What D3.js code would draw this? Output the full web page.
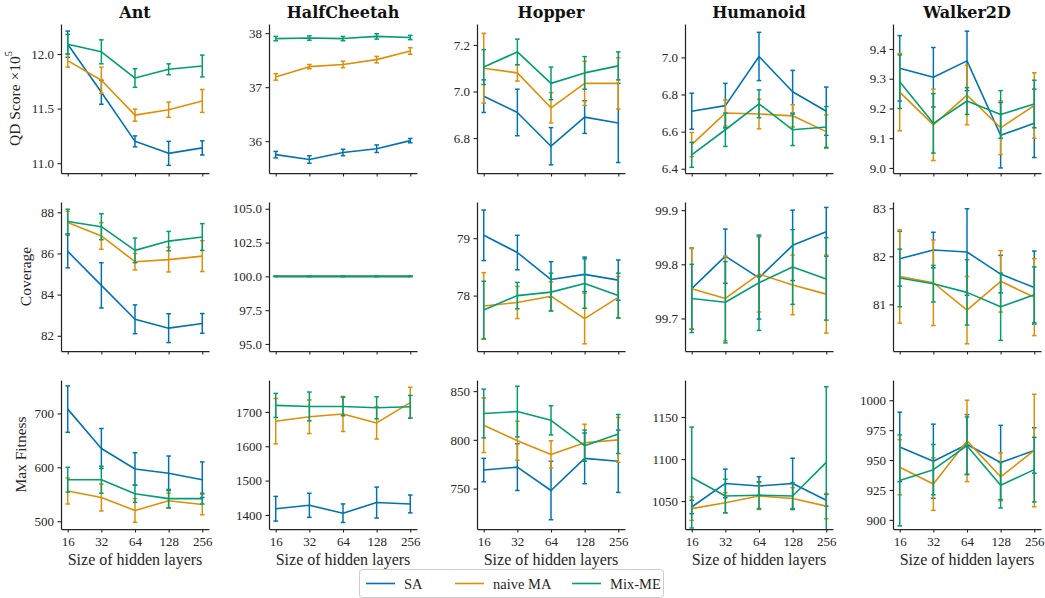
<!DOCTYPE html>
<html><head><meta charset="utf-8">
<script src="https://cdn.jsdelivr.net/npm/d3@7"></script>
<style>body{margin:0;background:#fff}</style>
</head><body><svg id="c" width="1045" height="598"></svg>
<script>
const sizes = [16, 32, 64, 128, 256];
const envs = ["Ant", "HalfCheetah", "Hopper", "Humanoid", "Walker2D"];
const methods = ["SA", "naive MA", "Mix-ME"];

// QD score (x1e5)
const qd_SA = [
  [12.09, 11.65, 11.20, 11.09, 11.14],
  [35.75, 35.66, 35.79, 35.86, 36.01],
  [6.98, 6.91, 6.765, 6.89, 6.865],
  [6.71, 6.74, 7.005, 6.815, 6.71],
  [9.335, 9.305, 9.36, 9.11, 9.15]];
const qd_SA_err = [
  [0.12, 0.11, 0.05, 0.11, 0.065],
  [0.06, 0.07, 0.06, 0.07, 0.04],
  [0.07, 0.10, 0.08, 0.07, 0.17],
  [0.097, 0.12, 0.13, 0.115, 0.13],
  [0.11, 0.10, 0.10, 0.11, 0.115]];
const qd_MA = [
  [11.94, 11.76, 11.44, 11.49, 11.57],
  [37.19, 37.38, 37.42, 37.51, 37.67],
  [7.10, 7.08, 6.93, 7.035, 7.035],
  [6.53, 6.70, 6.695, 6.685, 6.60],
  [9.255, 9.145, 9.245, 9.135, 9.21]];
const qd_MA_err = [
  [0.06, 0.12, 0.055, 0.07, 0.105],
  [0.06, 0.04, 0.06, 0.06, 0.06],
  [0.15, 0.035, 0.065, 0.095, 0.11],
  [0.065, 0.07, 0.08, 0.06, 0.09],
  [0.13, 0.12, 0.10, 0.09, 0.11]];
const qd_MX = [
  [12.09, 12.02, 11.78, 11.86, 11.89],
  [37.90, 37.91, 37.90, 37.94, 37.92],
  [7.105, 7.17, 7.035, 7.08, 7.11],
  [6.475, 6.61, 6.75, 6.61, 6.625],
  [9.29, 9.15, 9.225, 9.18, 9.215]];
const qd_MX_err = [
  [0.09, 0.11, 0.085, 0.05, 0.10],
  [0.04, 0.04, 0.04, 0.05, 0.04],
  [0.075, 0.055, 0.07, 0.07, 0.06],
  [0.067, 0.09, 0.075, 0.085, 0.11],
  [0.09, 0.10, 0.045, 0.08, 0.08]];

// Coverage
const cov_SA = [
  [86.1, 84.45, 82.8, 82.37, 82.6],
  [100, 100, 100, 100, 100],
  [79.05, 78.75, 78.28, 78.37, 78.27],
  [99.755, 99.815, 99.775, 99.835, 99.86],
  [81.95, 82.13, 82.09, 81.63, 81.35]];
const cov_SA_err = [
  [0.8, 1.1, 0.7, 0.7, 0.48],
  [0, 0, 0, 0, 0],
  [0.44, 0.3, 0.31, 0.3, 0.35],
  [0.075, 0.05, 0.076, 0.065, 0.045],
  [0.57, 0.37, 0.9, 0.39, 0.76]];
const cov_MA = [
  [87.5, 86.85, 85.6, 85.7, 85.87],
  [100, 100, 100, 100, 100],
  [77.82, 77.88, 77.99, 77.6, 77.97],
  [99.755, 99.737, 99.782, 99.762, 99.745],
  [81.58, 81.45, 80.88, 81.48, 81.15]];
const cov_MA_err = [
  [0.55, 0.65, 0.4, 0.6, 0.75],
  [0, 0, 0, 0, 0],
  [0.58, 0.28, 0.25, 0.44, 0.36],
  [0.074, 0.078, 0.07, 0.055, 0.072],
  [0.97, 0.89, 0.7, 0.64, 0.8]];
const cov_MX = [
  [87.55, 87.3, 86.15, 86.6, 86.8],
  [100, 100, 100, 100, 100],
  [77.75, 78.0, 78.06, 78.21, 78.0],
  [99.737, 99.73, 99.766, 99.795, 99.773],
  [81.55, 81.43, 81.25, 80.95, 81.2]];
const cov_MX_err = [
  [0.6, 0.63, 0.6, 0.47, 0.65],
  [0, 0, 0, 0, 0],
  [0.5, 0.23, 0.33, 0.43, 0.39],
  [0.063, 0.075, 0.088, 0.069, 0.076],
  [0.6, 0.38, 0.68, 0.7, 0.58]];

// Max fitness
const mf_SA = [
  [708, 635, 597, 589, 577],
  [1418, 1428, 1405, 1436, 1432],
  [769, 772, 748, 781, 778],
  [1043, 1071, 1068, 1071, 1051],
  [961, 949, 963, 948, 958]];
const mf_SA_err = [
  [43, 37, 30, 32, 33],
  [36, 35, 27, 45, 26],
  [12, 24, 30, 26, 32],
  [8, 17, 11, 30, 7],
  [29, 31, 25, 31, 19]];
const mf_MA = [
  [556, 544, 520, 538, 531],
  [1673, 1686, 1694, 1668, 1727],
  [815, 799, 785, 797, 800],
  [1041, 1048, 1056, 1053, 1044],
  [944, 930, 966, 936, 958]];
const mf_MA_err = [
  [24, 25, 22, 14, 19],
  [66, 49, 51, 47, 45],
  [28, 20, 14, 19, 23],
  [14, 12, 16, 13, 15],
  [23, 22, 34, 20, 47]];
const mf_MX = [
  [577, 577, 551, 542, 542],
  [1719, 1716, 1716, 1712, 1715],
  [827, 829, 820, 794, 806],
  [1078, 1056, 1057, 1056, 1096],
  [933, 942, 962, 929, 942]];
const mf_MX_err = [
  [23, 25, 16, 17, 10],
  [35, 42, 27, 32, 33],
  [25, 26, 15, 16, 20],
  [60, 20, 16, 16, 90],
  [38, 21, 24, 19, 27]];

// axis limits and ticks
const qdDomains = [[10.91, 12.275], [35.41, 38.17], [6.65, 7.29], [6.377, 7.18], [8.983, 9.484]];
const covDomains = [[81.26, 88.5], [94.48, 105.5], [77.035, 79.63], [99.64, 99.915], [80.03, 83.13]];
const mfDomains = [[485.6, 762], [1359, 1793], [708.5, 861.4], [1016.8, 1194], [892.4, 1016.9]];
const qdTicks = [[11.0, 11.5, 12.0], [36, 37, 38], [6.8, 7.0, 7.2], [6.4, 6.6, 6.8, 7.0], [9.0, 9.1, 9.2, 9.3, 9.4]];
const covTicks = [[82, 84, 86, 88], [95, 97.5, 100, 102.5, 105], [78, 79], [99.7, 99.8, 99.9], [81, 82, 83]];
const mfTicks = [[500, 600, 700], [1400, 1500, 1600, 1700], [750, 800, 850], [1050, 1100, 1150], [900, 925, 950, 975, 1000]];
const qdDecimals = [1, 0, 1, 1, 1];
const covDecimals = [0, 1, 0, 1, 0];
const mfDecimals = [0, 0, 0, 0, 0];
const rowLabels = ["QD Score", "Coverage", "Max Fitness"];
const xLabel = "Size of hidden layers";

// ---- drawing ----
const colors = ["#0173b2", "#de8f05", "#029e73"];
const SERIF = "'Liberation Serif', 'Times New Roman', serif";
const TITLE = "'DejaVu Serif', serif";
const INK = "#262626";
const svg = d3.select("#c");
const colLeft = [61, 269, 477, 685, 893], axW = 148;
const rowTop = [24, 202, 380], axH = 149;
const ylabX = [14, 25, 20];

const rows = [
  {means: [qd_SA, qd_MA, qd_MX], errs: [qd_SA_err, qd_MA_err, qd_MX_err], dom: qdDomains, ticks: qdTicks, dec: qdDecimals},
  {means: [cov_SA, cov_MA, cov_MX], errs: [cov_SA_err, cov_MA_err, cov_MX_err], dom: covDomains, ticks: covTicks, dec: covDecimals},
  {means: [mf_SA, mf_MA, mf_MX], errs: [mf_SA_err, mf_MA_err, mf_MX_err], dom: mfDomains, ticks: mfTicks, dec: mfDecimals}
];

const defs = svg.append("defs");
defs.append("clipPath").attr("id", "axclip").append("rect")
  .attr("x", 0).attr("y", 0).attr("width", axW).attr("height", axH);

rows.forEach((R, r) => {
  envs.forEach((env, c) => {
    const g = svg.append("g").attr("transform", `translate(${colLeft[c]},${rowTop[r]})`);
    const x = d3.scaleLog().base(2).domain([Math.pow(2, 3.8), Math.pow(2, 8.2)]).range([0, axW]);
    const y = d3.scaleLinear().domain(R.dom[c]).range([axH, 0]);
    const plot = g.append("g").attr("clip-path", "url(#axclip)");
    methods.forEach((mName, k) => {
      const mean = R.means[k][c], err = R.errs[k][c];
      const pts = sizes.map((s, i) => ({s, m: mean[i], e: err[i]}));
      const eg = plot.append("g").attr("stroke", colors[k]).attr("stroke-width", 1.5);
      pts.forEach(p => {
        const x0 = x(p.s), y1 = y(p.m - p.e), y2 = y(p.m + p.e);
        eg.append("line").attr("x1", x0).attr("x2", x0).attr("y1", y1).attr("y2", y2);
        eg.append("line").attr("x1", x0 - 2.3).attr("x2", x0 + 2.3).attr("y1", y1).attr("y2", y1);
        eg.append("line").attr("x1", x0 - 2.3).attr("x2", x0 + 2.3).attr("y1", y2).attr("y2", y2);
      });
      plot.append("path").datum(pts)
        .attr("fill", "none").attr("stroke", colors[k]).attr("stroke-width", 1.6)
        .attr("stroke-linejoin", "round")
        .attr("d", d3.line().x(p => x(p.s)).y(p => y(p.m)));
    });
    // axes
    const ya = g.append("g").call(d3.axisLeft(y).tickValues(R.ticks[c])
      .tickFormat(d3.format(`.${R.dec[c]}f`)).tickSize(3.5).tickPadding(3.5).tickSizeOuter(0));
    const xa = g.append("g").attr("transform", `translate(0,${axH})`)
      .call(d3.axisBottom(x).tickValues(sizes).tickFormat(r === 2 ? (d => String(d)) : (() => ""))
        .tickSize(3.5).tickPadding(4).tickSizeOuter(0));
    [ya, xa].forEach(a => {
      a.attr("font-family", null).attr("font-size", null);
      a.select(".domain").attr("stroke", INK).attr("stroke-width", 1.25);
      a.selectAll(".tick line").attr("stroke", INK).attr("stroke-width", 1.1);
      a.selectAll(".tick text").attr("fill", INK).style("font-family", SERIF).style("font-size", "13px");
    });
    if (r === 0) {
      svg.append("text").attr("x", colLeft[c] + axW / 2).attr("y", 18)
        .attr("text-anchor", "middle").style("font-family", TITLE).style("font-weight", "bold")
        .style("font-size", "16px").attr("fill", "#111").text(env);
    }
    if (r === 2) {
      svg.append("text").attr("x", colLeft[c] + axW / 2).attr("y", 565)
        .attr("text-anchor", "middle").style("font-family", SERIF).style("font-size", "16px")
        .attr("fill", INK).text(xLabel);
    }
  });
  const cy = rowTop[r] + axH / 2;
  const t = svg.append("text").attr("transform", `translate(${ylabX[r]},${cy}) rotate(-90)`)
    .attr("text-anchor", "middle").attr("dominant-baseline", "central")
    .style("font-family", SERIF).style("font-size", "15.5px").attr("fill", INK);
  if (r === 0) {
    t.append("tspan").text("QD Score ×10");
    t.append("tspan").attr("dy", -6).style("font-size", "10.5px").text("5");
  } else {
    t.text(rowLabels[r]);
  }
});

// legend
const lg = svg.append("g");
lg.append("rect").attr("x", 359.5).attr("y", 569.5).attr("width", 304).attr("height", 28)
  .attr("rx", 3).attr("fill", "#fff").attr("stroke", "#cccccc").attr("stroke-width", 1);
const legX = [366, 455, 572];
methods.forEach((mName, k) => {
  lg.append("line").attr("x1", legX[k]).attr("x2", legX[k] + 29).attr("y1", 583.5).attr("y2", 583.5)
    .attr("stroke", colors[k]).attr("stroke-width", 1.6);
  lg.append("text").attr("x", legX[k] + 38).attr("y", 588.5)
    .style("font-family", SERIF).style("font-size", "14.5px").attr("fill", INK).text(mName);
});
</script></body></html>
